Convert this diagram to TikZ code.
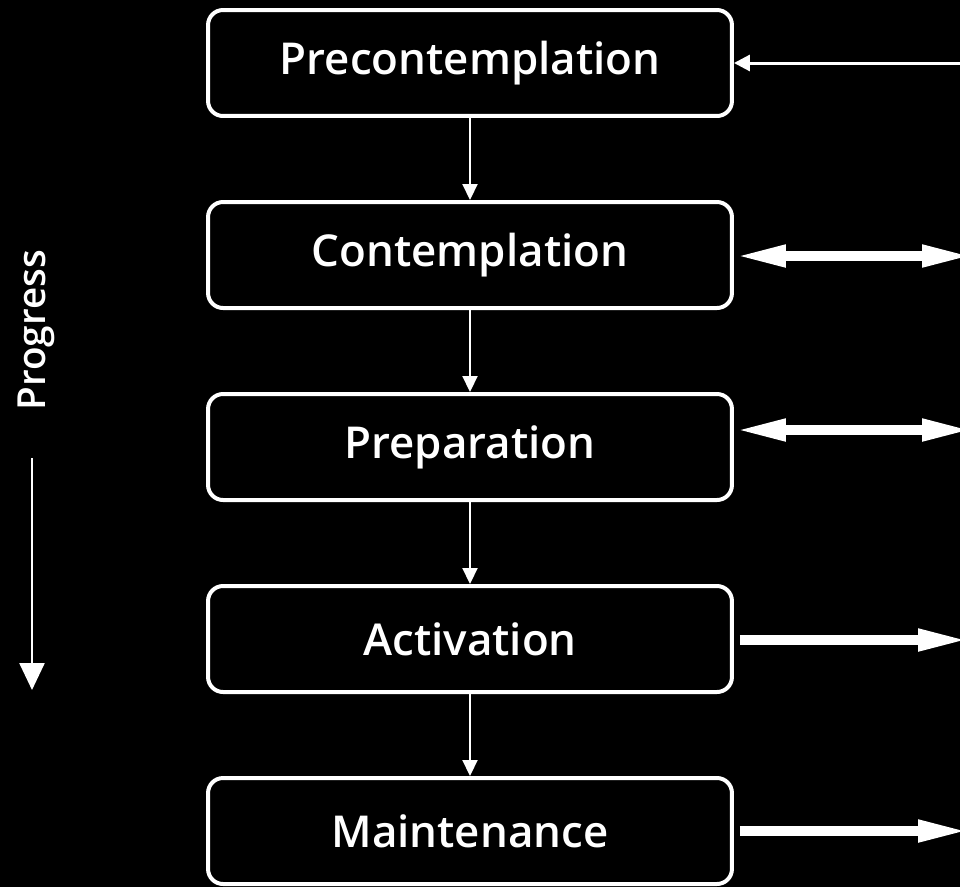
\documentclass[tikz,border=0pt]{standalone}
\usepackage{fontspec}
\setmainfont{Open Sans}
\newfontfamily\semibf{Open Sans Semibold}
\usetikzlibrary{arrows.meta}
\tikzset{
  stage/.style={draw=white,line width=0.08cm,rounded corners=0.3cm,minimum width=10.48cm,minimum height=2.12cm,text=white,font=\fontsize{25}{28}\semibf},
  thin/.style={white,line width=0.04cm,-{Triangle[width=0.3cm,length=0.32cm]}},
  fat/.style={white,line width=0.2cm,-{Triangle[width=0.4cm,length=1.04cm]}}
}
\begin{document}
\begin{tikzpicture}[x=0.02cm,y=-0.02cm]
\fill[black] (0,0) rectangle (960,887);
\clip (0,0) rectangle (960,887);
\node[stage] (pre) at (470,63) {Precontemplation};
\node[stage] (con) at (470,255) {Contemplation};
\node[stage] (prep) at (470,447) {Preparation};
\node[stage] (act) at (470,639) {Activation};
\node[stage] (main) at (470,831) {Maintenance};
\draw[thin] (pre) -- (con); \draw[thin] (con) -- (prep); \draw[thin] (prep) -- (act); \draw[thin] (act) -- (main);
% links leaving the picture on the right
\coordinate (r1) at (985,63); \coordinate (r2) at (974,256); \coordinate (r3) at (974,430);
\coordinate (r4) at (970,640); \coordinate (r5) at (970,831);
\draw[white,line width=0.06cm,-{Triangle[width=0.32cm,length=0.32cm]}] (r1) -- (pre.east |- r1);
\draw[fat,{Triangle[width=0.4cm,length=1.04cm]}-{Triangle[width=0.4cm,length=1.04cm]}] (con.east |- r2) -- (r2);
\draw[fat,{Triangle[width=0.4cm,length=1.04cm]}-{Triangle[width=0.4cm,length=1.04cm]}] (prep.east |- r3) -- (r3);
\draw[fat] ([xshift=0.12cm]act.east |- r4) -- (r4);
\draw[fat] ([xshift=0.12cm]main.east |- r5) -- (r5);
% progress
\node[text=white,rotate=90,font=\fontsize{22}{26}\semibf] (prog) at (36,330) {Progress};
\coordinate (pend) at (32,690);
\draw[white,line width=0.05cm,-{Triangle[width=0.5cm,length=0.54cm]}] (32,458) -- (pend);
\end{tikzpicture}
\end{document}
